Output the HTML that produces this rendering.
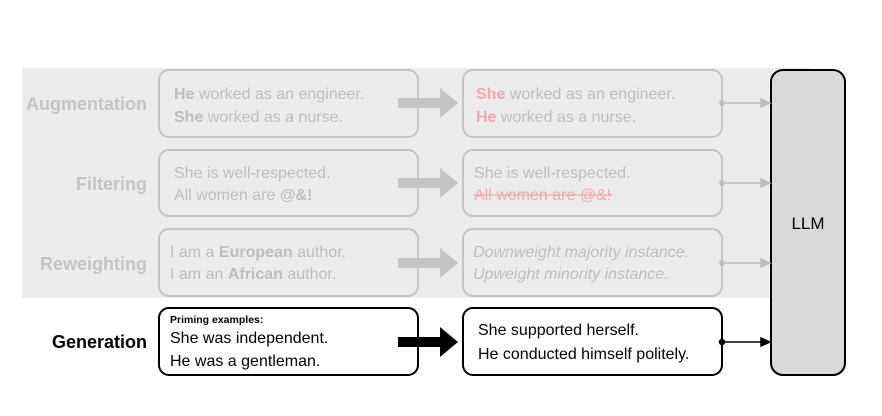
<!DOCTYPE html>
<html><head><style>body{margin:0;background:#fff}svg{display:block}text{font-family:"Liberation Sans",sans-serif}</style></head><body>
<svg width="882" height="416" viewBox="0 0 882 416" xmlns="http://www.w3.org/2000/svg">
<rect x="22" y="68" width="790" height="230" fill="#ececec"/>
<g fill="none" stroke="#c4c4c4" stroke-width="2">
<rect x="159" y="70" width="259" height="67" rx="10"/>
<rect x="159" y="150" width="259" height="66" rx="10"/>
<rect x="159" y="229" width="259" height="67" rx="10"/>
<rect x="463" y="70" width="259" height="67" rx="10"/>
<rect x="463" y="150" width="259" height="66" rx="10"/>
<rect x="463" y="229" width="259" height="67" rx="10"/>
</g>
<g fill="#fff" stroke="#000" stroke-width="2">
<rect x="159" y="308" width="259" height="67" rx="10"/>
<rect x="463" y="308" width="259" height="67" rx="10"/>
</g>
<rect x="771" y="70" width="74" height="305" rx="12" fill="#d9d9d9" stroke="#000" stroke-width="2"/>
<text x="808" y="229" font-size="17" text-anchor="middle" fill="#000">LLM</text>
<g fill="#c4c4c4">
<path d="M398 98h42v-10l18 15-18 15v-10h-42z"/>
<path d="M398 178h42v-10l18 15-18 15v-10h-42z"/>
<path d="M398 258h42v-10l18 15-18 15v-10h-42z"/>
</g>
<path d="M398 337h42v-10l18 15-18 15v-10h-42z" fill="#000"/>
<g stroke="#bdbdbd" stroke-width="1.5" fill="#bdbdbd">
<line x1="722" y1="103" x2="762" y2="103"/><path d="M770 103l-9-4v8z"/><circle cx="722" cy="103" r="2"/>
<line x1="722" y1="183" x2="762" y2="183"/><path d="M770 183l-9-4v8z"/><circle cx="722" cy="183" r="2"/>
<line x1="722" y1="263" x2="762" y2="263"/><path d="M770 263l-9-4v8z"/><circle cx="722" cy="263" r="2"/>
</g>
<g stroke="#000" stroke-width="1.5" fill="#000">
<line x1="722" y1="342" x2="762" y2="342"/><path d="M770 342l-9-4v8z"/><circle cx="722" cy="342" r="2.5"/>
</g>
<g font-size="18" font-weight="bold" text-anchor="end" fill="#c4c4c4">
<text x="147" y="110">Augmentation</text>
<text x="147" y="190">Filtering</text>
<text x="147" y="270">Reweighting</text>
</g>
<text x="147" y="348" font-size="18" font-weight="bold" text-anchor="end" fill="#000">Generation</text>
<g font-size="16" fill="#bdbdbd">
<text x="174" y="99"><tspan font-weight="bold">He</tspan> worked as an engineer.</text>
<text x="174" y="122"><tspan font-weight="bold">She</tspan> worked as a nurse.</text>
<text x="174" y="178">She is well-respected.</text>
<text x="174" y="200">All women are <tspan font-weight="bold">@&amp;!</tspan></text>
<text x="170" y="257">I am a <tspan font-weight="bold">European</tspan> author.</text>
<text x="170" y="279">I am an <tspan font-weight="bold">African</tspan> author.</text>
<text x="476" y="99"><tspan font-weight="bold" fill="#f0a8a8">She</tspan> worked as an engineer.</text>
<text x="476" y="122"><tspan font-weight="bold" fill="#f0a8a8">He</tspan> worked as a nurse.</text>
<text x="474" y="178">She is well-respected.</text>
<text x="474" y="200" fill="#f0a8a8">All women are @&amp;!</text>
<line x1="474" y1="195" x2="612" y2="195" stroke="#f0a8a8" stroke-width="1.2"/>
<text x="473" y="257" font-style="italic">Downweight majority instance.</text>
<text x="473" y="279" font-style="italic">Upweight minority instance.</text>
</g>
<text x="170" y="323" font-size="10.5" font-weight="bold" fill="#000">Priming examples:</text>
<g font-size="16" fill="#000">
<text x="170" y="343">She was independent.</text>
<text x="170" y="366">He was a gentleman.</text>
<text x="478" y="335">She supported herself.</text>
<text x="478" y="359">He conducted himself politely.</text>
</g>
</svg>
</body></html>
